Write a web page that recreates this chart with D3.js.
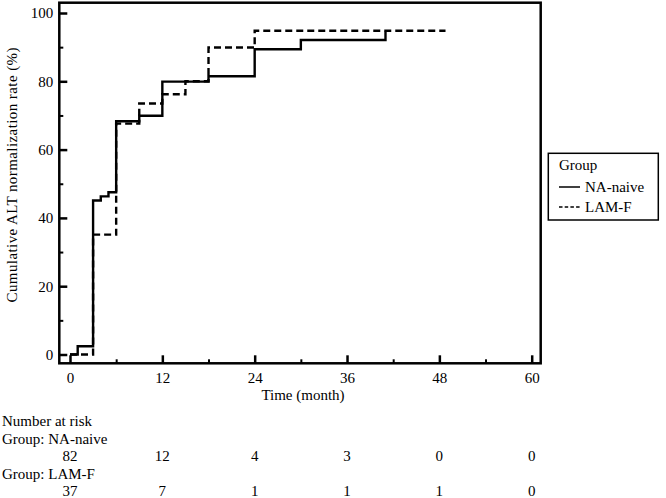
<!DOCTYPE html>
<html>
<head>
<meta charset="utf-8">
<script src="https://cdn.jsdelivr.net/npm/d3@7"></script>
<style>
  html, body { margin: 0; padding: 0; background: #fff; }
  svg { display: block; }
  text { font-family: "Liberation Serif", "Times New Roman", serif; fill: #000; }
</style>
</head>
<body>
<svg id="chart" width="666" height="498"></svg>
<script>
// ---- data ----
const naTimes   = [0, 1, 3, 4, 5, 6, 9, 12, 18, 24, 30, 41];
const naValues  = [0, 2.4, 45.1, 46.3, 47.5, 68.3, 69.9, 79.9, 81.5, 89.4, 92.1, 94.6];
const lamTimes  = [0, 3, 6, 9, 12, 15, 18, 24, 48.8];
const lamValues = [0, 35.1, 67.6, 73.5, 76.2, 80.0, 89.9, 94.8, 94.8];
const xMajorTicks = [0, 12, 24, 36, 48, 60];
const xMinorTicks = [6, 18, 30, 42, 54];
const yMajorTicks = [0, 20, 40, 60, 80, 100];
const yMinorTicks = [10, 30, 50, 70, 90];
const riskTimes = [0, 12, 24, 36, 48, 60];
const naRisk    = [82, 12, 4, 3, 0, 0];
const lamRisk   = [37, 7, 1, 1, 1, 0];
const groupNames = ["NA-naive", "LAM-F"];

// ---- layout ----
const svg = d3.select("#chart");
const frame = { left: 59.3, right: 540.7, top: 2.7, bottom: 363.3 };
const x = d3.scaleLinear().domain([0, 60]).range([70, 531.7]);
const y = d3.scaleLinear().domain([0, 100]).range([354.5, 13]);
const FS = 15;

// frame
svg.append("rect")
  .attr("x", frame.left).attr("y", frame.top)
  .attr("width", frame.right - frame.left)
  .attr("height", frame.bottom - frame.top)
  .attr("fill", "none").attr("stroke", "#000").attr("stroke-width", 2.5);

// x axis
const gx = svg.append("g").attr("transform", `translate(0,${frame.bottom})`);
gx.call(d3.axisBottom(x).tickValues(xMajorTicks).tickSizeInner(-8).tickSizeOuter(0).tickPadding(9).tickFormat(d3.format("d")));
gx.select(".domain").remove();
gx.selectAll(".tick line").attr("stroke-width", 2.5);
gx.selectAll(".tick text").style("font-size", FS + "px").style("font-family", '"Liberation Serif", serif');
const gxm = svg.append("g").attr("transform", `translate(0,${frame.bottom})`);
gxm.call(d3.axisBottom(x).tickValues(xMinorTicks).tickSizeInner(-4).tickSizeOuter(0).tickFormat(""));
gxm.select(".domain").remove();
gxm.selectAll(".tick line").attr("stroke-width", 2);

// y axis
const gy = svg.append("g").attr("transform", `translate(${frame.left},0)`);
gy.call(d3.axisLeft(y).tickValues(yMajorTicks).tickSizeInner(-8).tickSizeOuter(0).tickPadding(6).tickFormat(d3.format("d")));
gy.select(".domain").remove();
gy.selectAll(".tick line").attr("stroke-width", 2.5);
gy.selectAll(".tick text").style("font-size", FS + "px").style("font-family", '"Liberation Serif", serif');
const gym = svg.append("g").attr("transform", `translate(${frame.left},0)`);
gym.call(d3.axisLeft(y).tickValues(yMinorTicks).tickSizeInner(-4).tickSizeOuter(0).tickFormat(""));
gym.select(".domain").remove();
gym.selectAll(".tick line").attr("stroke-width", 2);

// axis titles
svg.append("text")
  .attr("x", 303).attr("y", 400)
  .attr("text-anchor", "middle").style("font-size", FS + "px")
  .text("Time (month)");
svg.append("text")
  .attr("transform", "translate(17,175) rotate(-90)")
  .attr("text-anchor", "middle").style("font-size", FS + "px")
  .attr("textLength", 255).attr("lengthAdjust", "spacing")
  .text("Cumulative ALT normalization rate (%)");

// curves
const line = d3.line().x(d => x(d[0])).y(d => y(d[1])).curve(d3.curveStepAfter);
const naData = naTimes.map((t, i) => [t, naValues[i]]);
const lamData = lamTimes.map((t, i) => [t, lamValues[i]]);
svg.append("path").datum(lamData)
  .attr("d", line).attr("fill", "none").attr("stroke", "#000")
  .attr("stroke-width", 2.4).attr("stroke-dasharray", "7,4");
svg.append("path").datum(naData)
  .attr("d", line).attr("fill", "none").attr("stroke", "#000")
  .attr("stroke-width", 2.4);

// legend
const lg = svg.append("g");
lg.append("rect").attr("x", 548.3).attr("y", 153.3).attr("width", 110).attr("height", 66.7)
  .attr("fill", "#fff").attr("stroke", "#000").attr("stroke-width", 1.5);
lg.append("text").attr("x", 559).attr("y", 170).style("font-size", FS + "px").text("Group");
lg.append("line").attr("x1", 559).attr("x2", 580).attr("y1", 187).attr("y2", 187)
  .attr("stroke", "#000").attr("stroke-width", 1.5);
lg.append("text").attr("x", 585).attr("y", 191.5).style("font-size", FS + "px").text(groupNames[0]);
lg.append("line").attr("x1", 559).attr("x2", 580).attr("y1", 207).attr("y2", 207)
  .attr("stroke", "#000").attr("stroke-width", 1.5).attr("stroke-dasharray", "3.5,2.2");
lg.append("text").attr("x", 585).attr("y", 211.5).style("font-size", FS + "px").text(groupNames[1]);

// number at risk table
svg.append("text").attr("x", 2).attr("y", 426).style("font-size", FS + "px").text("Number at risk");
svg.append("text").attr("x", 2).attr("y", 443.5).style("font-size", FS + "px").text("Group: " + groupNames[0]);
svg.append("g").selectAll("text").data(naRisk).join("text")
  .attr("x", (d, i) => x(riskTimes[i])).attr("y", 461)
  .attr("text-anchor", "middle").style("font-size", FS + "px").text(d => d);
svg.append("text").attr("x", 2).attr("y", 478.5).style("font-size", FS + "px").text("Group: " + groupNames[1]);
svg.append("g").selectAll("text").data(lamRisk).join("text")
  .attr("x", (d, i) => x(riskTimes[i])).attr("y", 495.5)
  .attr("text-anchor", "middle").style("font-size", FS + "px").text(d => d);
</script>
</body>
</html>
